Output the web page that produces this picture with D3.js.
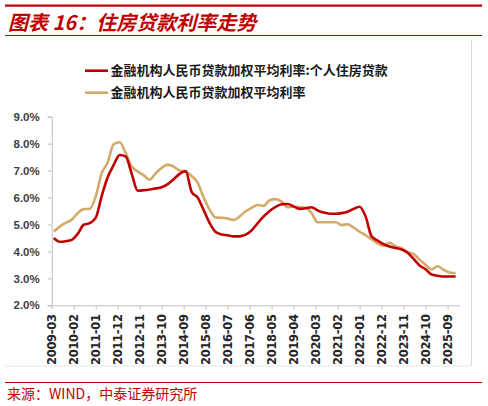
<!DOCTYPE html>
<html>
<head>
<meta charset="utf-8">
<script src="https://cdn.jsdelivr.net/npm/d3@7"></script>
<style>
  body { margin: 0; background: #fff; }
  svg { display: block; }
</style>
</head>
<body>
<div id="chart"></div>
<script>
// quarterly points, 2009-03 .. 2026-03
const startMonth = "2009-03";
const endMonth = "2026-03";

const seriesNames = [
  "金融机构人民币贷款加权平均利率:个人住房贷款",
  "金融机构人民币贷款加权平均利率"
];

const housingRate = [
  4.50, 4.36, 4.38, 4.43, 4.65, 4.99, 5.05, 5.25, 6.05, 6.75,
  7.21, 7.58, 7.52, 6.88, 6.25, 6.27, 6.30, 6.34, 6.38, 6.50,
  6.68, 6.88, 6.98, 6.20, 6.00, 5.54, 5.05, 4.72, 4.63, 4.60,
  4.56, 4.56, 4.62, 4.78, 5.05, 5.30, 5.50, 5.65, 5.75, 5.76,
  5.67, 5.58, 5.60, 5.64, 5.52, 5.44, 5.40, 5.40, 5.42, 5.47,
  5.58, 5.66, 5.30, 4.56, 4.40, 4.27, 4.18, 4.13, 4.07, 3.95,
  3.72, 3.48, 3.34, 3.14, 3.10, 3.07, 3.07, 3.07, 3.07
];

const loanRate = [
  4.74, 4.92, 5.06, 5.18, 5.42, 5.57, 5.58, 6.05, 6.90, 7.30,
  7.98, 8.05, 7.65, 7.15, 6.97, 6.82, 6.66, 6.90, 7.10, 7.22,
  7.15, 7.00, 6.96, 6.80, 6.55, 6.00, 5.55, 5.26, 5.25, 5.22,
  5.17, 5.30, 5.49, 5.62, 5.72, 5.69, 5.90, 5.94, 5.85, 5.64,
  5.66, 5.64, 5.61, 5.42, 5.08, 5.08, 5.08, 5.08, 4.98, 5.01,
  4.88, 4.73, 4.60, 4.45, 4.30, 4.20, 4.32, 4.19, 4.12, 3.98,
  3.90, 3.69, 3.50, 3.33, 3.45, 3.32, 3.22, 3.20, 3.26
];

const yTicks = [2, 3, 4, 5, 6, 7, 8, 9];
const xTickLabels = [
  "2009-03", "2010-02", "2011-01", "2011-12", "2012-11", "2013-10",
  "2014-09", "2015-08", "2016-07", "2017-06", "2018-05", "2019-04",
  "2020-03", "2021-02", "2022-01", "2022-12", "2023-11", "2024-10", "2025-09"
];

const colors = ["#c00000", "#d4a96a"];

const width = 488, height = 406;
const parse = d3.timeParse("%Y-%m");
const dates = d3.timeMonth.every(3).range(parse(startMonth), d3.timeMonth.offset(parse(endMonth), 1));

const svg = d3.select("#chart").append("svg")
  .attr("width", width)
  .attr("height", height);

// header / footer rules
svg.append("rect").attr("x", 5).attr("y", 4.5).attr("width", 477).attr("height", 2.2).attr("fill", "#c00000");
svg.append("rect").attr("x", 5).attr("y", 35).attr("width", 477).attr("height", 1).attr("fill", "#c00000");
svg.append("rect").attr("x", 5).attr("y", 382).attr("width", 477).attr("height", 1).attr("fill", "#c00000");

svg.append("text")
  .attr("x", 8).attr("y", 30)
  .attr("fill", "#c00000")
  .style("font", "italic bold 20px 'Noto Sans CJK SC', sans-serif")
  .text("图表 16：住房贷款利率走势");

svg.append("text")
  .attr("x", 7).attr("y", 398.5)
  .attr("fill", "#c00000")
  .style("font", "14px 'Noto Sans CJK SC', sans-serif")
  .text("来源：WIND，中泰证券研究所");

// chart frame (right + bottom, light)
svg.append("line").attr("x1", 471.5).attr("x2", 471.5).attr("y1", 40).attr("y2", 366)
  .attr("stroke", "#d9d9d9");
svg.append("line").attr("x1", 5).attr("x2", 471.5).attr("y1", 366).attr("y2", 366)
  .attr("stroke", "#e6e6e6");

const x = d3.scaleTime()
  .domain([parse(startMonth), parse(endMonth)])
  .range([51.7, 459.5]);

const y = d3.scaleLinear()
  .domain([2, 9])
  .range([305.3, 116.7]);

// y axis
const yAxis = svg.append("g")
  .attr("transform", "translate(51.7,0)")
  .call(d3.axisLeft(y).tickValues(yTicks).tickSize(4).tickPadding(8)
    .tickFormat(d => d.toFixed(1) + "%"));
yAxis.select(".domain").attr("stroke", "#bfbfbf");
yAxis.selectAll(".tick line").attr("stroke", "#bfbfbf");
yAxis.selectAll("text")
  .attr("fill", "#404040")
  .style("font", "bold 11.5px 'Liberation Sans', Arial, sans-serif");

// x axis
const xTickDates = xTickLabels.map(parse);
const xAxis = svg.append("g")
  .attr("transform", "translate(0,305.3)")
  .call(d3.axisBottom(x).tickValues(xTickDates).tickSize(4).tickSizeOuter(0)
    .tickFormat(d3.timeFormat("%Y-%m")));
xAxis.select(".domain").attr("stroke", "#bfbfbf");
xAxis.selectAll(".tick line").attr("stroke", "#bfbfbf");
xAxis.selectAll("text")
  .attr("fill", "#262626")
  .attr("text-anchor", "end")
  .attr("transform", "rotate(-90)")
  .attr("x", -9).attr("y", 0).attr("dy", "0.35em")
  .style("font", "bold 11.5px 'DejaVu Sans', sans-serif")
  .style("letter-spacing", "-0.3px");

// lines
const line = d3.line()
  .x((d, i) => x(dates[i]))
  .y(d => y(d))
  .curve(d3.curveMonotoneX);

[loanRate, housingRate].forEach((vals, k) => {
  svg.append("path")
    .datum(vals)
    .attr("fill", "none")
    .attr("stroke", colors[1 - k])
    .attr("stroke-width", 2.6)
    .attr("stroke-linejoin", "round")
    .attr("d", line);
});

// legend
const legend = svg.append("g");
seriesNames.forEach((name, i) => {
  const ly = 70.7 + i * 22;
  legend.append("line")
    .attr("x1", 85).attr("x2", 108)
    .attr("y1", ly).attr("y2", ly)
    .attr("stroke", colors[i]).attr("stroke-width", 2.6);
  legend.append("text")
    .attr("x", 110.5).attr("y", ly).attr("dy", "0.36em")
    .attr("fill", "#1a1a1a")
    .style("font", "bold 13px 'Noto Sans CJK SC', sans-serif")
    .text(name);
});
</script>
</body>
</html>
